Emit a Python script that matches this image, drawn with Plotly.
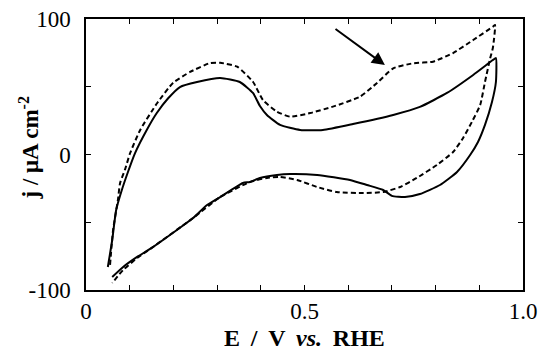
import plotly.graph_objects as go

# Solid CV (anodic then cathodic sweep)
solid_E = [0.050, 0.060, 0.069, 0.082, 0.096, 0.112, 0.139, 0.162, 0.188, 0.215, 0.254, 0.307,
           0.352, 0.382, 0.398, 0.414, 0.444, 0.490, 0.542, 0.611, 0.703, 0.764, 0.826, 0.886, 0.931, 0.938,
           0.938, 0.929, 0.913, 0.897, 0.879, 0.849, 0.810, 0.764, 0.730, 0.700, 0.680, 0.643,
           0.604, 0.529, 0.467, 0.437, 0.398, 0.375, 0.359, 0.307, 0.277, 0.245, 0.208, 0.153, 0.117, 0.085, 0.060]
solid_j = [-83.0, -63.1, -41.0, -26.2, -12.9, 0.9, 18.1, 30.6, 41.5, 49.8, 53.5, 56.5,
           53.5, 45.4, 35.8, 29.2, 21.8, 18.1, 18.1, 22.5, 29.2, 35.1, 45.4, 58.7, 69.7, 71.2,
           53.5, 38.7, 21.8, 9.2, -0.4, -12.9, -22.5, -29.2, -31.4, -30.5, -26.2, -22.5,
           -18.8, -15.1, -14.4, -15.1, -17.3, -20.3, -21.0, -31.4, -37.3, -46.9, -55.7, -68.3, -75.6, -83.0, -90.4]

# Dashed CV
dash_E = [0.055, 0.062, 0.073, 0.078, 0.089, 0.101, 0.124, 0.163, 0.199, 0.238, 0.284, 0.307, 0.346,
          0.382, 0.405, 0.437, 0.467, 0.513, 0.565, 0.627, 0.666, 0.703, 0.748, 0.794, 0.840, 0.886, 0.931, 0.936,
          0.931, 0.925, 0.913, 0.902, 0.883, 0.863, 0.840, 0.803, 0.757, 0.719, 0.680, 0.634, 0.574,
          0.529, 0.483, 0.444, 0.414, 0.375, 0.307, 0.245, 0.153, 0.117, 0.085, 0.060]
dash_j = [-81.5, -55.7, -33.6, -21.0, -11.4, 1.1, 18.1, 38.0, 52.8, 60.9, 67.5, 67.7, 64.8,
          53.7, 40.2, 31.6, 27.9, 30.6, 35.3, 42.7, 52.8, 63.6, 67.3, 68.5, 74.9, 84.5, 94.3, 95.6,
          78.6, 71.2, 53.5, 36.5, 24.0, 12.2, 1.8, -7.7, -17.3, -24.0, -27.7, -28.4, -27.7,
          -24.0, -18.8, -16.6, -17.3, -20.3, -31.4, -46.9, -68.3, -76.4, -85.2, -94.8]

x_tickvals = [0, 0.1, 0.2, 0.3, 0.4, 0.5, 0.6, 0.7, 0.8, 0.9, 1.0]
x_ticktext = ["0", "", "", "", "", "0.5", "", "", "", "", "1.0"]
y_tickvals = [-100, -50, 0, 50, 100]
y_ticktext = ["-100", "", "0", "", "100"]

fig = go.Figure()
fig.add_trace(go.Scatter(x=solid_E, y=solid_j, mode="lines",
                         line=dict(color="black", width=2, shape="spline", smoothing=0.5)))
fig.add_trace(go.Scatter(x=dash_E, y=dash_j, mode="lines",
                         line=dict(color="black", width=2, dash="5px,3px", shape="spline", smoothing=0.5)))

font_serif = "Liberation Serif"
axis_common = dict(showgrid=False, zeroline=False, showline=True, linecolor="black", linewidth=1.5,
                   mirror="ticks", ticks="inside", ticklen=5, tickwidth=1, tickcolor="black",
                   automargin=False,
                   tickfont=dict(family=font_serif, size=23, color="black"))

fig.update_xaxes(range=[0, 1.0], tickmode="array", tickvals=x_tickvals, ticktext=x_ticktext,
                 ticklabelstandoff=0, **axis_common)
fig.update_yaxes(range=[-100, 100], tickmode="array", tickvals=y_tickvals, ticktext=y_ticktext,
                 ticklabelstandoff=9, **axis_common)

fig.add_annotation(x=0.684, y=66.0, ax=0.5675, ay=93.4, xref="x", yref="y", axref="x", ayref="y",
                   text="", showarrow=True, arrowhead=2, arrowsize=1.3, arrowwidth=2, arrowcolor="black")

sp = " \u2009"
fig.add_annotation(x=0.5, y=0, xref="paper", yref="paper", yshift=-48, xanchor="center", yanchor="middle",
                   text="<b>E" + sp + "/" + sp + "V" + sp + "<i>vs.</i>" + sp + "RHE</b>", showarrow=False,
                   font=dict(family=font_serif, size=24, color="black"))
fig.add_annotation(x=0, y=0.5, xref="paper", yref="paper", xshift=-57, yshift=6,
                   xanchor="center", yanchor="middle",
                   text="<b>j / μA cm<sup>-2</sup></b>", textangle=-90, showarrow=False,
                   font=dict(family=font_serif, size=23, color="black"))

fig.update_layout(width=540, height=348, margin=dict(l=86, r=17, t=19, b=58, autoexpand=False),
                  paper_bgcolor="white", plot_bgcolor="white", showlegend=False)

fig.write_html("out.html", config={"displayModeBar": False},
               post_script="document.body.style.margin='0';document.body.style.padding='0';")
